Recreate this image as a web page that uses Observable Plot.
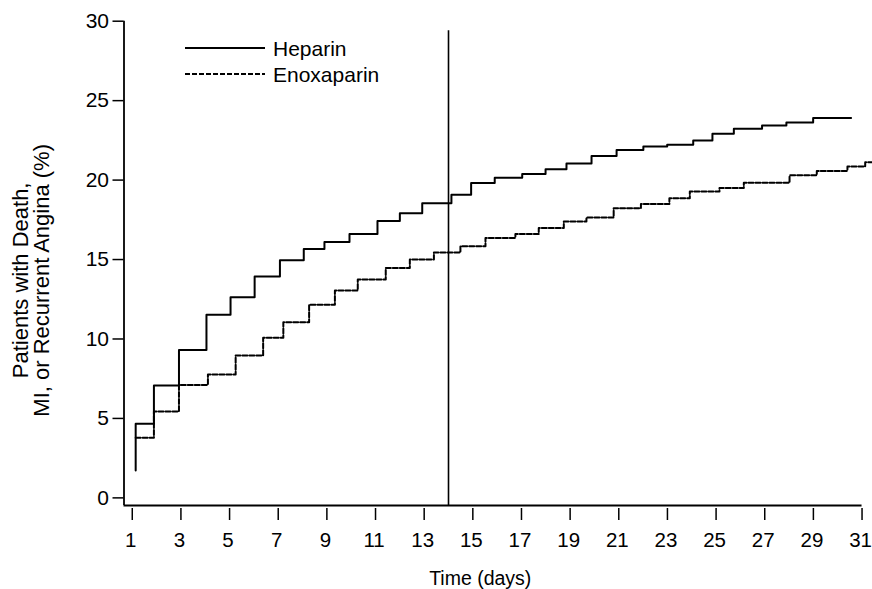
<!DOCTYPE html>
<html><head><meta charset="utf-8">
<script src="https://cdn.jsdelivr.net/npm/d3@7"></script>
<script src="https://cdn.jsdelivr.net/npm/@observablehq/plot@0.6"></script>
<style>
body{margin:0;background:#fff;}
#wrap{position:relative;width:872px;height:589px;font-family:"Liberation Sans",Arial,sans-serif;}
#legend{position:absolute;left:0;top:0;pointer-events:none;}
</style></head><body><div id="wrap"></div>
<script>
// Kaplan–Meier style cumulative event curves
const heparinDay = [1.14, 1.14, 1.89, 2.92, 4.05, 5.04, 6.03, 7.07, 8.05, 8.90, 9.93, 11.08, 12.0, 12.92, 14.12, 14.93, 15.90, 17.03, 17.99, 18.85, 19.88, 20.91, 22.01, 22.99, 24.06, 24.85, 25.73, 26.89, 27.89, 28.99, 30.55];
const heparinPct = [1.72, 4.66, 7.07, 9.31, 11.52, 12.62, 13.93, 14.95, 15.66, 16.10, 16.61, 17.42, 17.92, 18.54, 19.07, 19.82, 20.14, 20.38, 20.68, 21.04, 21.52, 21.90, 22.11, 22.23, 22.49, 22.91, 23.23, 23.44, 23.62, 23.91, 23.91];
const enoxDay = [1.14, 1.89, 2.92, 4.11, 5.25, 6.38, 7.21, 8.27, 9.33, 10.27, 11.42, 12.41, 13.40, 14.49, 15.52, 16.75, 17.71, 18.74, 19.67, 20.79, 21.91, 23.08, 23.92, 25.14, 26.14, 28.02, 29.14, 30.40, 31.13, 31.43];
const enoxPct = [3.78, 5.43, 7.11, 7.76, 8.96, 10.07, 11.05, 12.16, 13.05, 13.74, 14.47, 15.00, 15.44, 15.83, 16.36, 16.61, 16.99, 17.39, 17.64, 18.23, 18.50, 18.85, 19.28, 19.51, 19.84, 20.30, 20.58, 20.85, 21.12, 21.12];
const xTicks = [1, 3, 5, 7, 9, 11, 13, 15, 17, 19, 21, 23, 25, 27, 29, 31];
const yTicks = [0, 5, 10, 15, 20, 25, 30];
const cutoffDay = [14];
const cutoffTop = 29.4;
const seriesNames = ["Heparin", "Enoxaparin"];
const xLabel = "Time (days)";
const yLabel = "Patients with Death,\nMI, or Recurrent Angina (%)";

const xDomain = [0.66, 31.43];
const yDomain = [-0.48, 30];

const heparin = heparinDay.map((d, i) => ({day: d, pct: heparinPct[i]}));
const enox = enoxDay.map((d, i) => ({day: d, pct: enoxPct[i]}));

const font = "'Liberation Sans', Arial, Helvetica, sans-serif";
const dash = "5,2";

const chart = Plot.plot({
  width: 872, height: 589,
  marginLeft: 123.5, marginRight: 0, marginTop: 20.7, marginBottom: 84,
  x: {domain: xDomain},
  y: {domain: yDomain},
  style: {fontFamily: font, fontSize: "21px", color: "#000", background: "#fff"},
  marks: [
    Plot.ruleX([xDomain[0]], {stroke: "#000", strokeWidth: 1.8}),
    Plot.ruleY([yDomain[0]], {x1: xDomain[0], x2: 31, stroke: "#000", strokeWidth: 1.8}),
    Plot.axisY(yTicks, {anchor: "left", tickSize: 11, tickPadding: 4, fontSize: 21, strokeWidth: 1.5, label: null}),
    Plot.axisX(xTicks, {anchor: "bottom", tickSize: 12, dy: 3, strokeWidth: 1.5, label: null, tickFormat: () => ""}),
    Plot.text(xTicks, {x: d => d, text: d => String(d), frameAnchor: "bottom", dy: 27, dx: -1.5, fontSize: 20.5, lineAnchor: "top"}),
    Plot.ruleX(cutoffDay, {y1: yDomain[0], y2: cutoffTop, stroke: "#000", strokeWidth: 1.6}),
    Plot.line(heparin, {x: "day", y: "pct", curve: "step-after", stroke: "#000", strokeWidth: 2}),
    Plot.line(enox, {x: "day", y: "pct", curve: "step-after", stroke: "#000", strokeWidth: 2, strokeDasharray: dash}),
    Plot.text([xLabel], {text: d => d, frameAnchor: "bottom", dx: -18, dy: 73, fontSize: 19.5, lineAnchor: "middle"}),
    Plot.text([yLabel], {text: d => d, frameAnchor: "left", rotate: -90, dx: -92, dy: 17, fontSize: 22, lineHeight: 0.93, textAnchor: "middle", lineAnchor: "middle"})
  ]
});
const wrap = document.getElementById("wrap");
wrap.appendChild(chart);

// legend overlay
const lg = d3.select(wrap).append("svg").attr("id", "legend").attr("width", 872).attr("height", 120);
const rows = lg.selectAll("g").data(seriesNames).join("g")
  .attr("transform", (d, i) => `translate(0,${48 + i * 26})`);
rows.append("line").attr("x1", 185).attr("x2", 265).attr("y1", 0).attr("y2", 0)
  .attr("stroke", "#000").attr("stroke-width", 2)
  .attr("stroke-dasharray", (d, i) => i === 0 ? null : dash);
rows.append("text").attr("x", 273).attr("y", 0).attr("dy", "0.36em")
  .attr("font-family", font).attr("font-size", 21).text(d => d);
</script></body></html>
